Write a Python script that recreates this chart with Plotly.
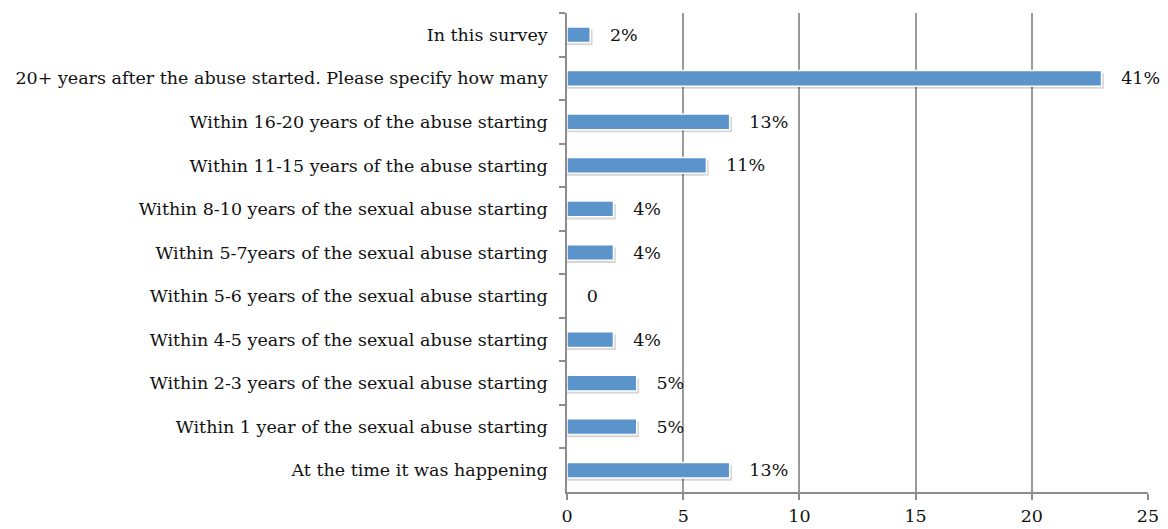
import plotly.graph_objects as go

categories = [
    "In this survey",
    "20+ years after the abuse started. Please specify how many",
    "Within 16-20 years of the abuse starting",
    "Within 11-15 years of the abuse starting",
    "Within 8-10 years of the sexual abuse starting",
    "Within 5-7years of the sexual abuse starting",
    "Within 5-6 years of the sexual abuse starting",
    "Within 4-5 years of the sexual abuse starting",
    "Within 2-3 years of the sexual abuse starting",
    "Within 1 year of the sexual abuse starting",
    "At the time it was happening",
]
counts = [1, 23, 7, 6, 2, 2, 0, 2, 3, 3, 7]
x_ticks = [0, 5, 10, 15, 20, 25]

total = sum(counts)
labels = [("0" if c == 0 else f"{int(100 * c / total + 0.5)}%") for c in counts]

font_family = "DejaVu Serif"
font_size = 17.5
bar_width = 0.36

fig = go.Figure()

# soft drop shadow under each non-empty bar
fig.add_trace(go.Bar(
    y=categories,
    x=[c + 0.1 if c > 0 else 0 for c in counts],
    orientation="h",
    width=bar_width,
    offset=-bar_width / 2 + 0.06,
    marker=dict(color="rgba(0,0,0,0.16)", line=dict(width=0)),
    hoverinfo="skip",
))

fig.add_trace(go.Bar(
    y=categories,
    x=counts,
    orientation="h",
    width=bar_width,
    offset=-bar_width / 2,
    marker=dict(color="#5B93CB", line=dict(color="#FFFFFF", width=1.5)),
    text=["   " + t for t in labels],
    textposition="outside",
    constraintext="none",
    cliponaxis=False,
    textfont=dict(family=font_family, size=font_size, color="#111111"),
))

fig.update_layout(
    width=1168,
    height=529,
    margin=dict(l=567, r=20, t=13, b=37),
    paper_bgcolor="white",
    plot_bgcolor="white",
    showlegend=False,
    barmode="overlay",
    font=dict(family=font_family, size=font_size, color="#111111"),
    xaxis=dict(
        range=[0, 25],
        tickvals=x_ticks,
        automargin=False,
        showgrid=True,
        gridcolor="#9A9A9A",
        gridwidth=1.5,
        zeroline=False,
        showline=True,
        linecolor="#8C8C8C",
        linewidth=1.5,
        ticks="outside",
        ticklen=6,
        tickcolor="#8C8C8C",
        tickwidth=1.5,
        ticklabelstandoff=1,
        tickfont=dict(family=font_family, size=font_size, color="#111111"),
    ),
    yaxis=dict(
        autorange="reversed",
        automargin=False,
        showgrid=False,
        showline=True,
        linecolor="#8C8C8C",
        linewidth=1.5,
        ticks="outside",
        tickson="boundaries",
        ticklen=6,
        tickcolor="#8C8C8C",
        tickwidth=1.5,
        ticklabelstandoff=14,
        tickfont=dict(family=font_family, size=font_size, color="#111111"),
    ),
)

fig.write_html("out.html")
